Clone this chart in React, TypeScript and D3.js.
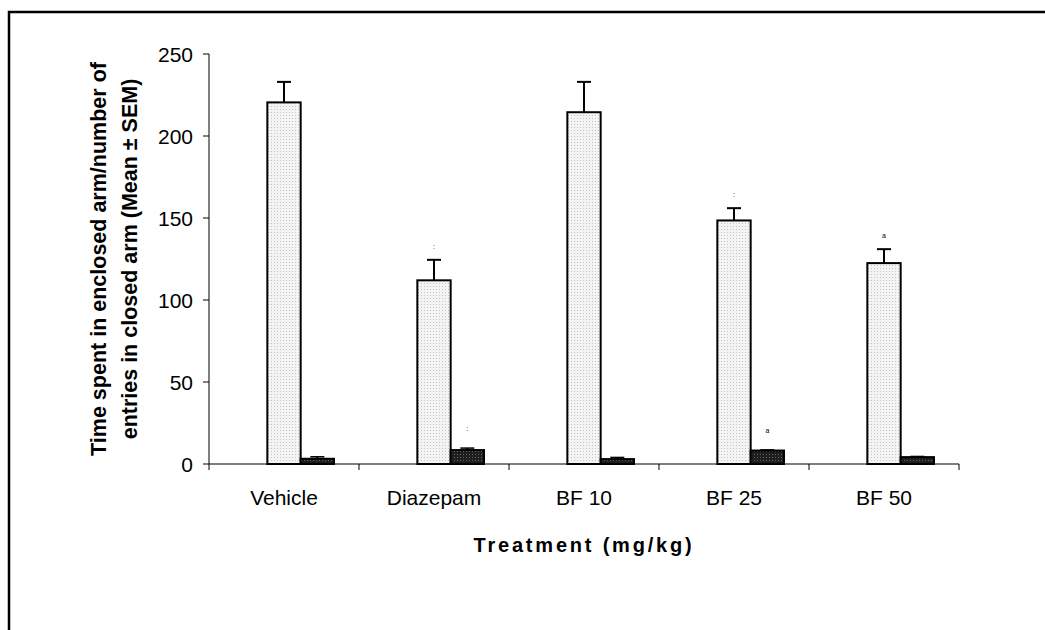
import React from "react";
import * as d3 from "d3";

const categories = ["Vehicle", "Diazepam", "BF 10", "BF 25", "BF 50"];
const timeMeans = [220.5, 112, 214.5, 148.5, 122.5];
const timeSems = [12.5, 12.5, 18.5, 7.5, 8.5];
const entryMeans = [3.2, 8.5, 3.0, 8.2, 4.2];
const entrySems = [1.2, 1.2, 1.0, 0.4, 0.4];
const timeMarks = ["", ":", "", ":", "a"];
const entryMarks = ["", ":", "", "a", ""];
const yTicks = [0, 50, 100, 150, 200, 250];

export default function App() {
  const W = 1045, H = 630;
  const left = 209, right = 959, top = 54, bottom = 464;
  const x = d3.scaleBand<string>().domain(categories).range([left, right]).padding(0);
  const inner = d3.scaleBand<string>().domain(["none", "time", "entries"]).range([25, 125]).padding(0);
  const y = d3.scaleLinear().domain([0, 250]).range([bottom, top]);
  const bw = inner.bandwidth();
  const capHalf = 7;

  return (
    <svg width={W} height={H} style={{ position: "absolute", left: 0, top: 0, background: "#fff" }}
      fontFamily="Liberation Sans, Arial, sans-serif">
      <defs>
        <pattern id="light" width="3" height="3" patternUnits="userSpaceOnUse">
          <rect width="3" height="3" fill="#f4f4f4" />
          <rect x="1" y="1" width="1" height="1" fill="#c4c4c4" />
        </pattern>
        <pattern id="dark" width="3" height="3" patternUnits="userSpaceOnUse">
          <rect width="3" height="3" fill="#1e1e1e" />
          <rect x="1" y="1" width="1" height="1" fill="#666" />
        </pattern>
      </defs>
      <rect x={9} y={12} width={1100} height={700} fill="none" stroke="#000" strokeWidth={2.5} />

      {/* y axis */}
      <line x1={left} x2={left} y1={top} y2={bottom + 6} stroke="#000" strokeWidth={1} />
      {yTicks.map((t) => (
        <g key={t}>
          <line x1={left - 6} x2={left} y1={y(t)} y2={y(t)} stroke="#000" strokeWidth={1} />
          <text x={193} y={y(t)} dy="0.36em" textAnchor="end" fontSize={21}>{t}</text>
        </g>
      ))}

      {/* x axis */}
      <line x1={left} x2={right} y1={bottom} y2={bottom} stroke="#000" strokeWidth={1} />
      {categories.map((c, i) => (
        <line key={"t" + i} x1={x(c)! + x.bandwidth()} x2={x(c)! + x.bandwidth()} y1={bottom} y2={bottom + 6} stroke="#000" strokeWidth={1} />
      ))}

      {categories.map((c, i) => {
        const x0 = x(c)!;
        const xt = x0 + inner("time")!;
        const xe = x0 + inner("entries")!;
        return (
          <g key={c}>
            <line x1={xt + bw / 2} x2={xt + bw / 2} y1={y(timeMeans[i])} y2={y(timeMeans[i] + timeSems[i])} stroke="#000" strokeWidth={2} />
            <line x1={xt + bw / 2 - capHalf} x2={xt + bw / 2 + capHalf} y1={y(timeMeans[i] + timeSems[i])} y2={y(timeMeans[i] + timeSems[i])} stroke="#000" strokeWidth={2} />
            <rect x={xt} y={y(timeMeans[i])} width={bw} height={bottom - y(timeMeans[i])} fill="url(#light)" stroke="#000" strokeWidth={2} />
            <line x1={xe + bw / 2} x2={xe + bw / 2} y1={y(entryMeans[i])} y2={y(entryMeans[i] + entrySems[i])} stroke="#000" strokeWidth={2} />
            <line x1={xe + bw / 2 - capHalf} x2={xe + bw / 2 + capHalf} y1={y(entryMeans[i] + entrySems[i])} y2={y(entryMeans[i] + entrySems[i])} stroke="#000" strokeWidth={1.5} />
            <rect x={xe} y={y(entryMeans[i])} width={bw} height={bottom - y(entryMeans[i])} fill="url(#dark)" stroke="#000" strokeWidth={2} />
            {timeMarks[i] && (
              <text x={xt + bw / 2} y={y(timeMeans[i] + timeSems[i]) - 11} textAnchor="middle" fontSize={7} fill="#000">{timeMarks[i]}</text>
            )}
            {entryMarks[i] && (
              <text x={xe + bw / 2} y={y(entryMeans[i] + entrySems[i]) - 17} textAnchor="middle" fontSize={7} fill="#000">{entryMarks[i]}</text>
            )}
            <text x={x0 + x.bandwidth() / 2} y={505} textAnchor="middle" fontSize={21}>{c}</text>
          </g>
        );
      })}

      <text x={(left + right) / 2} y={552} textAnchor="middle" fontSize={20} fontWeight="bold" letterSpacing={2.8}>Treatment (mg/kg)</text>
      <g transform={`translate(0, ${(top + bottom) / 2}) rotate(-90)`}>
        <text x={0} y={106} textAnchor="middle" fontSize={21.5} fontWeight="bold">Time spent in enclosed arm/number of</text>
        <text x={0} y={137} textAnchor="middle" fontSize={21.5} fontWeight="bold">entries in closed arm (Mean ± SEM)</text>
      </g>
    </svg>
  );
}
